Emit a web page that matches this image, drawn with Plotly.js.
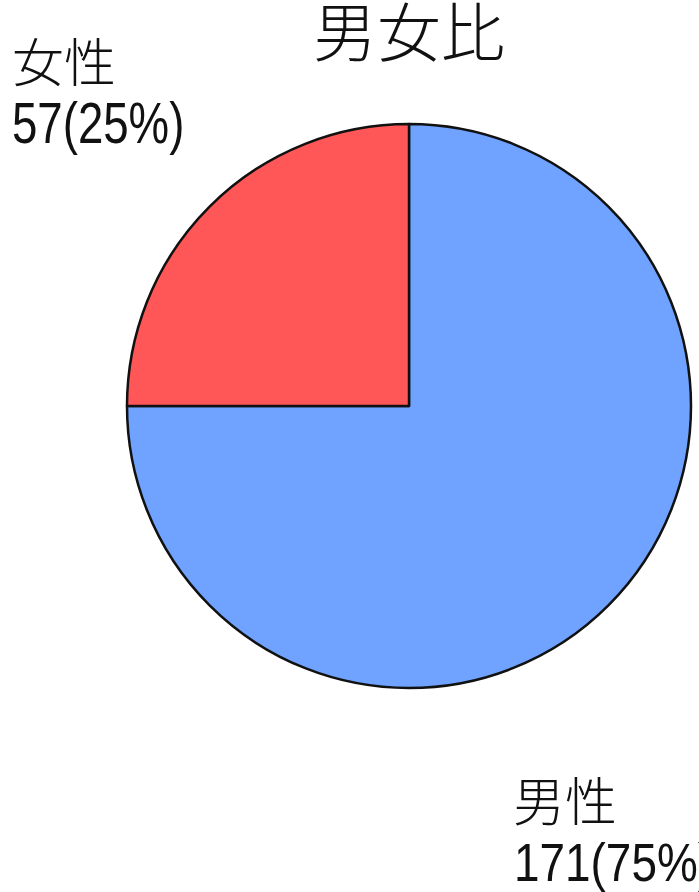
<!DOCTYPE html>
<html><head><meta charset="utf-8">
<script src="https://cdn.plot.ly/plotly-3.0.1.min.js"></script>
<style>html,body{margin:0;padding:0;background:#fff;}#chart{width:699px;height:892px;}</style>
</head><body><div id="chart"></div>
<script>
const title = "男女比";
const categories = ["男性", "女性"];
const counts = [171, 57];
const percents = [75, 25];
const colors = ["#6FA3FF", "#FF5757"];

const cjk = "'Noto Sans CJK JP', sans-serif";
const num = "'Liberation Sans', Arial, sans-serif";

const data = [{
  type: "pie",
  labels: categories,
  values: counts,
  sort: false,
  direction: "clockwise",
  rotation: 0,
  textinfo: "none",
  hoverinfo: "label+value+percent",
  marker: { colors: colors, line: { color: "#111", width: 2.5 } },
  domain: { x: [127/699, 691/699], y: [1 - 688/892, 1 - 124/892] },
  showlegend: false
}];

const annotations = [
  { text: title, x: 409/699, y: 1 - 28/892, font: { family: cjk, size: 64, color: "#111", weight: 300 } },
  { text: categories[1], x: 10/699, y: 1 - 59/892, xanchor: "left", font: { family: cjk, size: 52, color: "#111", weight: 300 } },
  { text: counts[1] + "(" + percents[1] + "%)", x: 10/699, y: 1 - 123/892, xanchor: "left", font: { family: num, size: 57, color: "#111" } },
  { text: categories[0], x: 511/699, y: 1 - 798/892, xanchor: "left", font: { family: cjk, size: 52, color: "#111", weight: 300 } },
  { text: counts[0] + "(" + percents[0] + "%)", x: 512/699, y: 1 - 862/892, xanchor: "left", font: { family: num, size: 54, color: "#111" } }
].map(a => Object.assign({ xref: "paper", yref: "paper", showarrow: false, yanchor: "middle" }, a));

const layout = {
  width: 699, height: 892,
  margin: { l: 0, r: 0, t: 0, b: 0 },
  paper_bgcolor: "#fff",
  annotations: annotations
};
Plotly.newPlot("chart", data, layout, { displayModeBar: false, staticPlot: true }).then(gd => {
  // horizontally condense the number labels to mimic the narrow font of the reference
  const squeeze = { 2: 0.80, 4: 0.85 };
  Object.keys(squeeze).forEach(i => {
    const t = gd.querySelector('.annotation[data-index="' + i + '"] text');
    if (!t) return;
    const bb = t.getBBox();
    const x0 = bb.x, s = squeeze[i];
    t.setAttribute("transform", "translate(" + x0 + ",0) scale(" + s + ",1) translate(" + (-x0) + ",0)");
  });
});
</script></body></html>
